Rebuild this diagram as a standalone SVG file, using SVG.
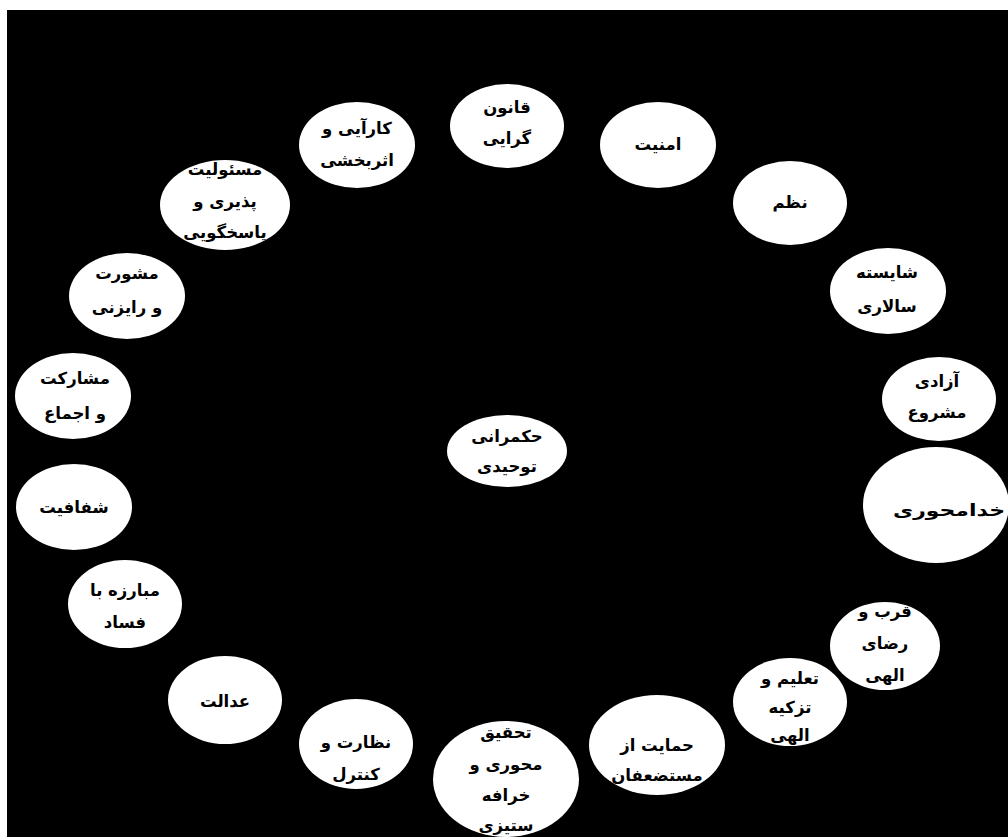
<svg xmlns="http://www.w3.org/2000/svg" width="1008" height="837" viewBox="0 0 1008 837">
<style>
.n{fill:#fff;stroke:none}
.t{font-family:"DejaVu Sans",sans-serif;font-size:16.5px;font-weight:bold;fill:#000;text-anchor:middle}
</style>
<rect x="0" y="0" width="1008" height="837" fill="#fff"/>
<rect x="7" y="10" width="1001" height="827" fill="#000"/>
<g id="connectors"></g>
<g id="center"><ellipse class="n" cx="507" cy="451" rx="60" ry="36"/><text class="t" direction="rtl" x="507" y="442">حکمرانی</text><text class="t" direction="rtl" x="507" y="472">توحیدی</text></g>
<g id="n-qanoon"><ellipse class="n" cx="507" cy="126" rx="57" ry="42"/><text class="t" direction="rtl" x="507" y="113">قانون</text><text class="t" direction="rtl" x="507" y="144">گرایی</text></g>
<g id="n-amniat"><ellipse class="n" cx="658" cy="145" rx="58" ry="43"/><text class="t" direction="rtl" x="658" y="150">امنیت</text></g>
<g id="n-nazm"><ellipse class="n" cx="790" cy="203" rx="57" ry="42"/><text class="t" direction="rtl" x="790" y="208">نظم</text></g>
<g id="n-shayeste"><ellipse class="n" cx="888" cy="291" rx="58" ry="43"/><text class="t" direction="rtl" x="887" y="278">شایسته</text><text class="t" direction="rtl" x="887" y="312">سالاری</text></g>
<g id="n-azadi"><ellipse class="n" cx="939" cy="399" rx="57" ry="42"/><text class="t" direction="rtl" x="937" y="387">آزادی</text><text class="t" direction="rtl" x="937" y="418">مشروع</text></g>
<g id="n-khoda"><ellipse class="n" cx="936" cy="505" rx="73" ry="58"/><text class="t" direction="rtl" x="949" y="516" textLength="112" lengthAdjust="spacingAndGlyphs">خدامحوری</text></g>
<g id="n-ghorb"><ellipse class="n" cx="885" cy="646" rx="55" ry="44"/><text class="t" direction="rtl" x="885" y="617">قرب و</text><text class="t" direction="rtl" x="885" y="649">رضای</text><text class="t" direction="rtl" x="885" y="681">الهی</text></g>
<g id="n-talim"><ellipse class="n" cx="790" cy="702" rx="57" ry="44"/><text class="t" direction="rtl" x="790" y="684">تعلیم و</text><text class="t" direction="rtl" x="790" y="713">تزکیه</text><text class="t" direction="rtl" x="790" y="741">الهی</text></g>
<g id="n-hemayat"><ellipse class="n" cx="657" cy="745" rx="68" ry="50"/><text class="t" direction="rtl" x="657" y="751">حمایت از</text><text class="t" direction="rtl" x="657" y="781">مستضعفان</text></g>
<g id="n-tahghigh"><ellipse class="n" cx="506" cy="779" rx="73" ry="58"/><text class="t" direction="rtl" x="506" y="738">تحقیق</text><text class="t" direction="rtl" x="506" y="770">محوری و</text><text class="t" direction="rtl" x="506" y="801">خرافه</text><text class="t" direction="rtl" x="506" y="831">ستیزی</text></g>
<g id="n-nezarat"><ellipse class="n" cx="356" cy="744" rx="57" ry="45"/><text class="t" direction="rtl" x="356" y="748">نظارت و</text><text class="t" direction="rtl" x="356" y="780">کنترل</text></g>
<g id="n-edalat"><ellipse class="n" cx="225" cy="700" rx="57" ry="44"/><text class="t" direction="rtl" x="225" y="707">عدالت</text></g>
<g id="n-mobareze"><ellipse class="n" cx="125" cy="604" rx="57" ry="44"/><text class="t" direction="rtl" x="125" y="596">مبارزه با</text><text class="t" direction="rtl" x="125" y="628">فساد</text></g>
<g id="n-shafafiat"><ellipse class="n" cx="74" cy="507" rx="58" ry="43"/><text class="t" direction="rtl" x="74" y="513">شفافیت</text></g>
<g id="n-mosharekat"><ellipse class="n" cx="73" cy="396" rx="58" ry="43"/><text class="t" direction="rtl" x="75" y="384">مشارکت</text><text class="t" direction="rtl" x="75" y="419">و اجماع</text></g>
<g id="n-mashverat"><ellipse class="n" cx="127" cy="296" rx="58" ry="43"/><text class="t" direction="rtl" x="127" y="279">مشورت</text><text class="t" direction="rtl" x="127" y="313">و رایزنی</text></g>
<g id="n-masooliat"><ellipse class="n" cx="225" cy="205" rx="65" ry="45"/><text class="t" direction="rtl" x="225" y="175">مسئولیت</text><text class="t" direction="rtl" x="225" y="207">پذیری و</text><text class="t" direction="rtl" x="225" y="238">پاسخگویی</text></g>
<g id="n-karaei"><ellipse class="n" cx="357" cy="145" rx="58" ry="43"/><text class="t" direction="rtl" x="357" y="134">کارآیی و</text><text class="t" direction="rtl" x="357" y="166">اثربخشی</text></g>
</svg>
